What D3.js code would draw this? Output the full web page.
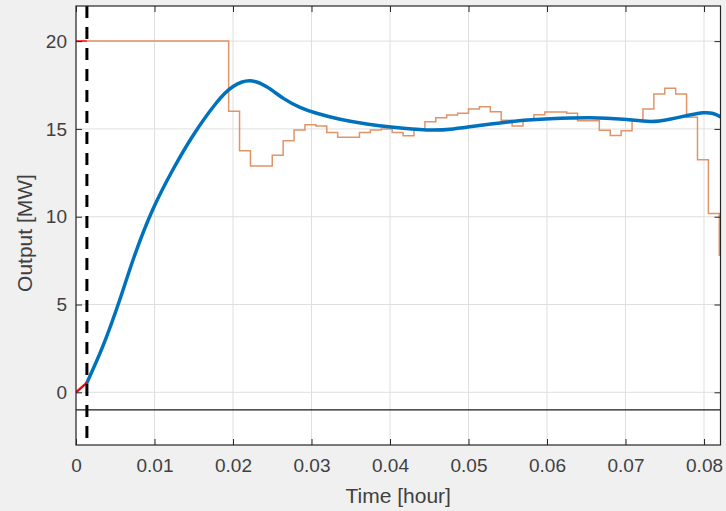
<!DOCTYPE html>
<html>
<head>
<meta charset="utf-8">
<script src="https://cdn.jsdelivr.net/npm/d3@7"></script>
<style>
  body { margin: 0; background: #f0f0f0; }
  svg { display: block; font-family: "Liberation Sans", Arial, Helvetica, sans-serif; }
</style>
</head>
<body>
<svg id="chart" width="726" height="511"></svg>
<script>
// time of the dashed marker (5 s, in hours) and the reference step width
var markerTime = 5 / 3600;
var stepDt = 5 / 3600;
var markerLevel = -1;

// reference (orange step), one value per 5 s interval
var refValues = [20, 20, 20, 20, 20, 20, 20, 20, 20, 20, 20, 20, 20, 20,
  16.0, 13.76, 12.89, 12.89, 13.5, 14.33, 14.94, 15.24, 15.17, 14.79,
  14.52, 14.52, 14.79, 14.94, 15.0, 14.79, 14.61, 15.0, 15.41, 15.64,
  15.79, 15.89, 16.13, 16.26, 15.98, 15.5, 15.17, 15.5, 15.8, 15.97,
  15.97, 15.89, 15.47, 15.47, 14.92, 14.63, 14.9, 15.5, 16.13, 16.99,
  17.31, 16.99, 15.66, 13.25, 10.19, 7.8];

// output (blue curve)
var outTime = [0.00139, 0.0034, 0.00552, 0.00743, 0.00977, 0.01232, 0.01487,
  0.01784, 0.01996, 0.0221, 0.02429, 0.02642, 0.02854, 0.03066, 0.03363,
  0.03703, 0.04042, 0.04467, 0.04806, 0.05188, 0.05613, 0.06038, 0.06547,
  0.06972, 0.07316, 0.07562, 0.07817, 0.07987, 0.08115, 0.08222];
var outValues = [0.55, 2.6, 5.2, 7.75, 10.4, 12.66, 14.6,
  16.46, 17.4, 17.74, 17.4, 16.74, 16.23, 15.89, 15.55,
  15.28, 15.09, 14.94, 15.0, 15.22, 15.45, 15.58, 15.64,
  15.55, 15.42, 15.55, 15.79, 15.92, 15.88, 15.66];

// initial part before the marker (red)
var initTime = [0, 0.00139];
var initOut = [0, 0.55];
var initRef = [20, 20];

var xTicks = [0, 0.01, 0.02, 0.03, 0.04, 0.05, 0.06, 0.07, 0.08];
var yTicks = [0, 5, 10, 15, 20];

var svg = d3.select('#chart');
var pL = 76, pR = 720.5, pT = 6, pB = 445;

var x = d3.scaleLinear().domain([0, 0.0821]).range([pL, pR]);
var y = d3.scaleLinear().domain([-3, 22]).range([pB, pT]);

svg.append('rect')
  .attr('x', pL).attr('y', pT)
  .attr('width', pR - pL).attr('height', pB - pT)
  .attr('fill', '#ffffff');

svg.append('clipPath').attr('id', 'plotclip')
  .append('rect')
  .attr('x', pL).attr('y', pT)
  .attr('width', pR - pL).attr('height', pB - pT);

// grid
var grid = svg.append('g').attr('stroke', '#dfdfdf').attr('stroke-width', 1);
xTicks.forEach(function (t) {
  grid.append('line').attr('x1', x(t)).attr('x2', x(t)).attr('y1', pT).attr('y2', pB);
});
yTicks.forEach(function (v) {
  grid.append('line').attr('x1', pL).attr('x2', pR).attr('y1', y(v)).attr('y2', y(v));
});

var plot = svg.append('g').attr('clip-path', 'url(#plotclip)');

// horizontal level line
plot.append('line')
  .attr('x1', pL).attr('x2', pR)
  .attr('y1', y(markerLevel)).attr('y2', y(markerLevel))
  .attr('stroke', '#1a1a1a').attr('stroke-width', 1.3);

// reference step line
var refPts = [];
for (var i = 0; i < refValues.length; i++) {
  var ts = Math.max(i * stepDt, markerTime);
  refPts.push([ts, refValues[i]]);
}
refPts.push([x.domain()[1] + 0.001, refValues[refValues.length - 1]]);
var stepLine = d3.line()
  .x(function (d) { return x(d[0]); })
  .y(function (d) { return y(d[1]); })
  .curve(d3.curveStepAfter);
plot.append('path')
  .datum(refPts)
  .attr('d', stepLine)
  .attr('fill', 'none')
  .attr('stroke', '#e0946a')
  .attr('stroke-width', 1.5);

// output curve
var outPts = outTime.map(function (t, i) { return [t, outValues[i]]; });
var curveLine = d3.line()
  .x(function (d) { return x(d[0]); })
  .y(function (d) { return y(d[1]); })
  .curve(d3.curveNatural);
plot.append('path')
  .datum(outPts)
  .attr('d', curveLine)
  .attr('fill', 'none')
  .attr('stroke', '#0072bd')
  .attr('stroke-width', 3.5)
  .attr('stroke-linecap', 'round');

// initial red segments
var plainLine = d3.line()
  .x(function (d) { return x(d[0]); })
  .y(function (d) { return y(d[1]); });
plot.append('path')
  .datum(initTime.map(function (t, i) { return [t, initOut[i]]; }))
  .attr('d', plainLine)
  .attr('fill', 'none').attr('stroke', '#ff0000').attr('stroke-width', 2.5);
plot.append('path')
  .datum(initTime.map(function (t, i) { return [t, initRef[i]]; }))
  .attr('d', plainLine)
  .attr('fill', 'none').attr('stroke', '#ff0000').attr('stroke-width', 1.5);

// dashed marker
plot.append('line')
  .attr('x1', x(markerTime)).attr('x2', x(markerTime))
  .attr('y1', pT).attr('y2', pB)
  .attr('stroke', '#000000').attr('stroke-width', 3)
  .attr('stroke-dasharray', '12,9');

// axes box with ticks on all sides
var axisColor = '#262626';
var xb = d3.axisBottom(x).tickValues(xTicks).tickSizeInner(-6).tickSizeOuter(0)
  .tickFormat(function (d) { return d === 0 ? '0' : d3.format('.2f')(d); });
var xt = d3.axisTop(x).tickValues(xTicks).tickSizeInner(-6).tickSizeOuter(0).tickFormat('');
var yl = d3.axisLeft(y).tickValues(yTicks).tickSizeInner(-6).tickSizeOuter(0);
var yr = d3.axisRight(y).tickValues(yTicks).tickSizeInner(-6).tickSizeOuter(0).tickFormat('');

function styleAxis(g) {
  g.select('.domain').remove();
  g.selectAll('line').attr('stroke', axisColor);
  g.selectAll('text').attr('fill', '#404040').style('font-size', '19px');
}

svg.append('g').attr('transform', 'translate(0,' + pB + ')').call(xb).call(styleAxis)
  .selectAll('text').attr('dy', '0').attr('y', 27);
svg.append('g').attr('transform', 'translate(0,' + pT + ')').call(xt).call(styleAxis);
svg.append('g').attr('transform', 'translate(' + pL + ',0)').call(yl).call(styleAxis)
  .selectAll('text').attr('x', -9);
svg.append('g').attr('transform', 'translate(' + pR + ',0)').call(yr).call(styleAxis);

svg.append('rect')
  .attr('x', pL).attr('y', pT)
  .attr('width', pR - pL).attr('height', pB - pT)
  .attr('fill', 'none').attr('stroke', axisColor).attr('stroke-width', 1.2);

// labels
svg.append('text')
  .attr('x', (pL + pR) / 2).attr('y', 503)
  .attr('text-anchor', 'middle')
  .attr('fill', '#404040').style('font-size', '21px')
  .text('Time [hour]');
svg.append('text')
  .attr('transform', 'translate(32,233) rotate(-90)')
  .attr('text-anchor', 'middle')
  .attr('fill', '#404040').style('font-size', '21px')
  .text('Output [MW]');
</script>
</body>
</html>
